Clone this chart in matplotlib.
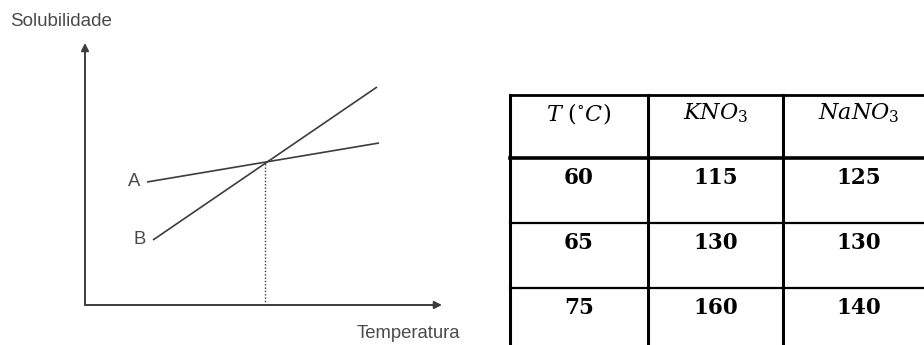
import matplotlib
matplotlib.use("Agg")
import matplotlib.pyplot as plt

# ---- schematic graph data (arbitrary units) ----
temp_A = [62, 294]
solub_A = [123, 162]
temp_B = [68, 292]
solub_B = [65, 218]
cross_temp = 180
cross_solub = 143

# ---- table data ----
table_header = [r"$T\ (^{\circ}C)$", r"$KNO_3$", r"$NaNO_3$"]
temperatures = ["60", "65", "75"]
kno3 = ["115", "130", "160"]
nano3 = ["125", "130", "140"]

W, H = 924, 345
fig = plt.figure(figsize=(W / 100, H / 100), dpi=100)
fig.patch.set_facecolor("white")

gray = "#3c3c3c"
txtgray = "#4a4a4a"

# ---------------- left graph ----------------
ox, oy = 85, 305
ax1 = fig.add_axes([ox / W, (H - oy) / H, (442 - ox) / W, (oy - 43) / H])
ax1.set_xlim(0, 442 - ox)
ax1.set_ylim(0, oy - 43)
ax1.axis("off")

ax1.plot(temp_A, solub_A, color=gray, lw=1.2, solid_capstyle="butt")
ax1.plot(temp_B, solub_B, color=gray, lw=1.2, solid_capstyle="butt")
ax1.plot([cross_temp, cross_temp], [0, cross_solub], color=gray, lw=1.0,
         linestyle=(0, (1, 1.4)))

arrow = dict(arrowstyle="-|>", color=gray, lw=1.4, mutation_scale=11,
             shrinkA=0, shrinkB=0)
ax1.annotate("", xy=(1, 0), xytext=(0, 0), xycoords="axes fraction",
             arrowprops=arrow)
ax1.annotate("", xy=(0, 1), xytext=(0, 0), xycoords="axes fraction",
             arrowprops=arrow)

ax1.text(temp_A[0] - 7, solub_A[0], "A", ha="right", va="center",
         fontsize=13.3, color=txtgray, family="Liberation Sans")
ax1.text(temp_B[0] - 7, solub_B[0], "B", ha="right", va="center",
         fontsize=13.3, color=txtgray, family="Liberation Sans")

fig.text(10 / W, 1 - 22 / H, "Solubilidade", ha="left", va="center",
         fontsize=13.5, color=txtgray, family="Liberation Sans")
fig.text(460 / W, 1 - 333 / H, "Temperatura", ha="right", va="center",
         fontsize=13.3, color=txtgray, family="Liberation Sans")

# ---------------- table ----------------
ax2 = fig.add_axes([0, 0, 1, 1])
ax2.set_xlim(0, W)
ax2.set_ylim(H, 0)
ax2.axis("off")

col_edges = [510, 648, 783]
col_centers = [579, 716, 859]
row_tops = [95, 158, 223, 288]
right = W + 5
bottom = H + 5

# horizontal lines
ax2.plot([col_edges[0], right], [row_tops[0], row_tops[0]], color="black", lw=2.0)
ax2.plot([col_edges[0], right], [row_tops[1], row_tops[1]], color="black", lw=2.6)
for yv in row_tops[2:]:
    ax2.plot([col_edges[0], right], [yv, yv], color="black", lw=1.6)
# vertical lines
for xv in col_edges:
    ax2.plot([xv, xv], [row_tops[0], bottom], color="black", lw=2.2)

plt.rcParams["mathtext.fontset"] = "dejavuserif"
for c, label in enumerate(table_header):
    ax2.text(col_centers[c], row_tops[0] + 18, label, ha="center", va="center",
             fontsize=16, color="black")

columns = [temperatures, kno3, nano3]
for c, col in enumerate(columns):
    for r, val in enumerate(col):
        ax2.text(col_centers[c], row_tops[r + 1] + 20, val, ha="center",
                 va="center", fontsize=15.5, color="black",
                 family="DejaVu Serif", fontweight="bold")

fig.savefig("out.png", dpi=100, facecolor="white")
